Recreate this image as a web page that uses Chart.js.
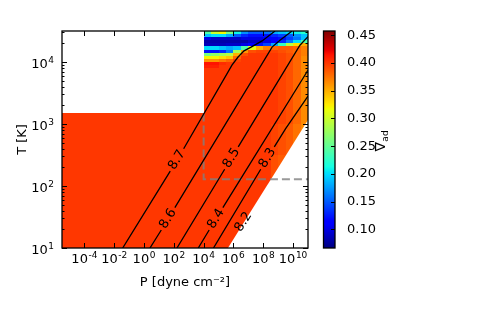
<!DOCTYPE html>
<html>
<head>
<meta charset="utf-8">
<title>nabla_ad map</title>
<script src="https://cdn.jsdelivr.net/npm/chart.js@4.4.1/dist/chart.umd.min.js"></script>
<style>
  html, body { margin: 0; padding: 0; background: #fff; }
</style>
</head>
<body>
<canvas id="eos-chart" width="500" height="310"></canvas>
<script>
// axes are in log10 P [dyne cm^-2] and log10 T [K]
const pTicks = [-4, -2, 0, 2, 4, 6, 8, 10];
const tTicks = [1, 2, 3, 4];
const nablaTicks = [0.10, 0.15, 0.20, 0.25, 0.30, 0.35, 0.40, 0.45];
const nablaRange = [0.066, 0.458];

// low pressure block, uniform value
const lowBlockP = [-5.5, 4.0];
const lowBlockT = [1.0, 3.17];
const lowBlockNabla = 0.40;

// high pressure table: column edges (log P), row edges (log T, top to bottom)
const tablePEdges = [4.0, 4.5, 5.0, 5.5, 6.0, 6.5, 7.0, 7.5, 8.0, 8.5, 9.0, 9.5, 10.0, 10.5, 11.0];
const tableTEdges = [4.5, 4.45, 4.4, 4.35, 4.3, 4.25, 4.2, 4.15, 4.1, 4.05, 4.0, 3.95, 3.9, 3.5, 3.0, 2.5, 2.0, 1.5, 1.0];
const tableNabla = [
  [0.24, 0.30, 0.32, 0.26, 0.21, 0.17, 0.15, 0.15, 0.16, 0.18, 0.19, 0.20, 0.21, 0.22],
  [0.19, 0.20, 0.20, 0.18, 0.15, 0.13, 0.12, 0.12, 0.12, 0.13, 0.14, 0.15, 0.17, 0.19],
  [0.10, 0.09, 0.09, 0.09, 0.09, 0.10, 0.10, 0.10, 0.11, 0.11, 0.12, 0.14, 0.16, 0.19],
  [0.08, 0.08, 0.08, 0.08, 0.08, 0.08, 0.09, 0.09, 0.10, 0.11, 0.13, 0.16, 0.20, 0.24],
  [0.085, 0.085, 0.085, 0.09, 0.09, 0.10, 0.11, 0.12, 0.14, 0.18, 0.23, 0.29, 0.33, 0.35],
  [0.20, 0.20, 0.19, 0.18, 0.19, 0.24, 0.31, 0.35, 0.37, 0.38, 0.385, 0.385, 0.38, 0.37],
  [0.12, 0.12, 0.13, 0.16, 0.28, 0.36, 0.39, 0.395, 0.395, 0.395, 0.39, 0.385, 0.38, 0.37],
  [0.26, 0.27, 0.28, 0.29, 0.35, 0.39, 0.40, 0.40, 0.40, 0.40, 0.395, 0.39, 0.38, 0.37],
  [0.32, 0.32, 0.33, 0.34, 0.38, 0.40, 0.40, 0.40, 0.40, 0.40, 0.395, 0.39, 0.38, 0.365],
  [0.36, 0.36, 0.37, 0.38, 0.395, 0.40, 0.40, 0.40, 0.40, 0.40, 0.395, 0.39, 0.38, 0.365],
  [0.415, 0.415, 0.405, 0.40, 0.40, 0.40, 0.40, 0.40, 0.40, 0.40, 0.395, 0.39, 0.38, 0.365],
  [0.41, 0.41, 0.40, 0.40, 0.40, 0.40, 0.40, 0.40, 0.40, 0.40, 0.395, 0.39, 0.38, 0.365],
  [0.40, 0.40, 0.40, 0.40, 0.40, 0.40, 0.40, 0.40, 0.40, 0.40, 0.395, 0.39, 0.38, 0.365],
  [0.40, 0.40, 0.40, 0.40, 0.40, 0.40, 0.40, 0.40, 0.40, 0.40, 0.395, 0.39, 0.38, 0.365],
  [0.40, 0.40, 0.40, 0.40, 0.40, 0.40, 0.40, 0.40, 0.40, 0.395, 0.39, 0.385, 0.375, 0.365],
  [0.40, 0.40, 0.40, 0.40, 0.40, 0.40, 0.40, 0.40, 0.40, 0.39, 0.385, 0.38, 0.37, 0.36],
  [0.40, 0.40, 0.40, 0.40, 0.40, 0.40, 0.40, 0.40, 0.40, 0.40, 0.40, 0.40, 0.40, 0.40],
  [0.40, 0.40, 0.40, 0.40, 0.40, 0.40, 0.40, 0.40, 0.40, 0.40, 0.40, 0.40, 0.40, 0.40],
];

// lower-right edge of the table (no data beyond)
const edgeP = [5.63, 11.0];
const edgeT = [1.0, 3.065];

// entropy contours, null = gap for the inline label
const c87P = [-1.43, 1.76, null, 2.66, 5.90, 6.31, 6.71, 7.18, 7.92, 8.79];
const c87T = [1.00, 2.24, null, 2.60, 3.95, 4.08, 4.18, 4.24, 4.34, 4.50];
const c86P = [0.40, 1.16, null, 2.07, 8.59, 9.12, 9.93];
const c86T = [1.00, 1.29, null, 1.65, 4.24, 4.35, 4.50];
const c85P = [2.21, 5.41, null, 6.32, 10.46, 11.0];
const c85T = [1.00, 2.27, null, 2.63, 4.27, 4.41];
const c84P = [3.64, 4.37, null, 5.29, 10.80, 11.0];
const c84T = [1.00, 1.29, null, 1.65, 3.79, 3.87];
const c83P = [4.66, 7.83, null, 8.74, 9.49, 11.0];
const c83T = [1.00, 2.27, null, 2.63, 2.92, 3.45];

const labelText = ["8.7", "8.6", "8.5", "8.4", "8.3", "8.2"];
const labelP = [2.21, 1.61, 5.87, 4.83, 8.29, 6.67];
const labelT = [2.42, 1.47, 2.45, 1.47, 2.45, 1.42];

const dashP = [4.0, 4.0, 11.0];
const dashT = [3.17, 2.11, 2.11];

const FONT = "'DejaVu Sans', sans-serif";

// matplotlib "jet"
const JET = {
  r: [[0, 0], [0.35, 0], [0.66, 1], [0.89, 1], [1, 0.5]],
  g: [[0, 0], [0.125, 0], [0.375, 1], [0.64, 1], [0.91, 0], [1, 0]],
  b: [[0, 0.5], [0.11, 1], [0.34, 1], [0.65, 0], [1, 0]],
};
const seg = (pts, f) => {
  for (let i = 1; i < pts.length; i++) {
    if (f <= pts[i][0]) {
      const [x0, y0] = pts[i - 1], [x1, y1] = pts[i];
      return y0 + (y1 - y0) * (f - x0) / (x1 - x0);
    }
  }
  return pts[pts.length - 1][1];
};
const jet = (v) => {
  const f = Math.min(1, Math.max(0, (v - nablaRange[0]) / (nablaRange[1] - nablaRange[0])));
  return `rgb(${Math.round(255 * seg(JET.r, f))},${Math.round(255 * seg(JET.g, f))},${Math.round(255 * seg(JET.b, f))})`;
};

// "10" with a raised exponent, like mathtext
const drawPow = (ctx, v, xPos, yBase, align) => {
  const exp = String(v);
  ctx.font = `13px ${FONT}`;
  const wb = ctx.measureText("10").width;
  ctx.font = `9px ${FONT}`;
  const we = ctx.measureText(exp).width;
  const total = wb + 0.5 + we;
  const x0 = align === "center" ? xPos - total / 2 : xPos - total;
  ctx.textAlign = "left";
  ctx.textBaseline = "alphabetic";
  ctx.font = `13px ${FONT}`;
  ctx.fillText("10", x0, yBase);
  ctx.font = `9px ${FONT}`;
  ctx.fillText(exp, x0 + wb + 0.5, yBase - 5);
};

const toPoints = (P, T) => P.map((p, i) => (p === null ? { x: NaN, y: NaN } : { x: p, y: T[i] }));

const contourLines = [[c87P, c87T], [c86P, c86T], [c85P, c85T], [c84P, c84T], [c83P, c83T], [edgeP, edgeT]];

const contourSet = (P, T) => ({
  data: toPoints(P, T),
  borderColor: "#000",
  borderWidth: 1.3,
  pointRadius: 0,
  tension: 0,
  spanGaps: false,
});

const heatmapPlugin = {
  id: "heatmap",
  beforeDatasetsDraw(chart) {
    const { ctx, chartArea: area, scales: { x, y } } = chart;
    const fillCell = (p0, p1, t0, t1, v) => {
      const x0 = Math.round(x.getPixelForValue(p0)), x1 = Math.round(x.getPixelForValue(p1));
      const y0 = Math.round(y.getPixelForValue(t1)), y1 = Math.round(y.getPixelForValue(t0));
      ctx.fillStyle = jet(v);
      ctx.fillRect(x0, y0, x1 - x0, y1 - y0);
    };
    ctx.save();
    ctx.beginPath();
    ctx.rect(area.left, area.top, area.width, area.height);
    ctx.clip();
    fillCell(lowBlockP[0], lowBlockP[1], lowBlockT[0], lowBlockT[1], lowBlockNabla);

    const pLo = tablePEdges[0], pHi = tablePEdges[tablePEdges.length - 1];
    const tLo = tableTEdges[tableTEdges.length - 1], tHi = tableTEdges[0];
    ctx.beginPath();
    ctx.moveTo(x.getPixelForValue(pLo), y.getPixelForValue(tLo));
    edgeP.forEach((p, i) => ctx.lineTo(x.getPixelForValue(p), y.getPixelForValue(edgeT[i])));
    ctx.lineTo(x.getPixelForValue(pHi), y.getPixelForValue(tHi));
    ctx.lineTo(x.getPixelForValue(pLo), y.getPixelForValue(tHi));
    ctx.closePath();
    ctx.clip();
    tableNabla.forEach((row, r) => row.forEach((v, c) =>
      fillCell(tablePEdges[c], tablePEdges[c + 1], tableTEdges[r + 1], tableTEdges[r], v)));
    ctx.restore();
  },
  afterDatasetsDraw(chart) {
    const { ctx, scales: { x, y } } = chart;
    labelText.forEach((txt, k) => {
      const [P, T] = contourLines[k];
      const pts = P.map((p, i) => (p === null ? null : [p, T[i]])).filter(Boolean);
      let a = pts[0], b = pts[1];
      for (let i = 0; i < pts.length - 1; i++) {
        if (pts[i][0] <= labelP[k] && labelP[k] <= pts[i + 1][0]) { a = pts[i]; b = pts[i + 1]; break; }
      }
      const ang = Math.atan2(y.getPixelForValue(b[1]) - y.getPixelForValue(a[1]),
        x.getPixelForValue(b[0]) - x.getPixelForValue(a[0]));
      ctx.save();
      ctx.translate(x.getPixelForValue(labelP[k]), y.getPixelForValue(labelT[k]));
      ctx.rotate(ang);
      ctx.font = `13px ${FONT}`;
      ctx.fillStyle = "#000";
      ctx.textAlign = "center";
      ctx.textBaseline = "middle";
      ctx.fillText(txt, 0, 0);
      ctx.restore();
    });
  },
  afterDraw(chart) {
    const { ctx, chartArea: area, scales: { x, y, nabla } } = chart;
    ctx.save();
    ctx.strokeStyle = "#000";
    ctx.fillStyle = "#000";

    // tick labels from the scales' own ticks
    x.ticks.forEach((t) => drawPow(ctx, t.value, x.getPixelForValue(t.value), area.bottom + 15, "center"));
    y.ticks.forEach((t) => drawPow(ctx, t.value, area.left - 8, y.getPixelForValue(t.value) + 5.5, "right"));

    // inward ticks on all four sides
    ctx.lineWidth = 1;
    ctx.beginPath();
    pTicks.forEach((v) => {
      const px = Math.round(x.getPixelForValue(v)) + 0.5;
      ctx.moveTo(px, area.bottom); ctx.lineTo(px, area.bottom - 5);
      ctx.moveTo(px, area.top); ctx.lineTo(px, area.top + 5);
    });
    for (let d = 1; d <= 4; d++) {
      for (let k = 1; k <= 9; k++) {
        const v = d + Math.log10(k);
        if (v > 4.5) continue;
        const len = k === 1 ? 5 : 2.5;
        const py = Math.round(y.getPixelForValue(v)) + 0.5;
        ctx.moveTo(area.left, py); ctx.lineTo(area.left + len, py);
        ctx.moveTo(area.right, py); ctx.lineTo(area.right - len, py);
      }
    }
    ctx.stroke();

    ctx.lineWidth = 1.3;
    ctx.strokeRect(area.left, area.top, area.width, area.height);

    // colour bar, drawn along the nabla axis
    const cbLeft = area.right + 15.5, cbWidth = 11.5;
    const cbTop = nabla.getPixelForValue(nablaRange[1]);
    const cbBottom = nabla.getPixelForValue(nablaRange[0]);
    for (let py = Math.floor(cbTop); py < cbBottom; py++) {
      ctx.fillStyle = jet(nabla.getValueForPixel(py + 0.5));
      ctx.fillRect(cbLeft, py, cbWidth, 1);
    }
    ctx.lineWidth = 1;
    ctx.beginPath();
    nablaTicks.forEach((v) => {
      const py = Math.round(nabla.getPixelForValue(v)) + 0.5;
      ctx.moveTo(cbLeft + cbWidth - 4, py); ctx.lineTo(cbLeft + cbWidth, py);
    });
    ctx.stroke();
    ctx.lineWidth = 1.3;
    ctx.strokeRect(cbLeft, cbTop, cbWidth, cbBottom - cbTop);

    // colour bar label: nabla_ad, reading upwards
    ctx.translate(area.right + 77, (cbTop + cbBottom) / 2 + 12);
    ctx.rotate(-Math.PI / 2);
    ctx.fillStyle = "#000";
    ctx.textBaseline = "alphabetic";
    ctx.textAlign = "left";
    ctx.font = `14px ${FONT}`;
    ctx.fillText("\u2207", 0, 0);
    const w = ctx.measureText("\u2207").width;
    ctx.font = `9px ${FONT}`;
    ctx.fillText("ad", w + 0.5, 2.5);
    ctx.restore();
  },
};

Chart.defaults.font.family = FONT;
Chart.defaults.font.size = 13;
Chart.defaults.color = "#000";

new Chart(document.getElementById("eos-chart"), {
  type: "line",
  data: {
    datasets: [
      contourSet(c87P, c87T),
      contourSet(c86P, c86T),
      contourSet(c85P, c85T),
      contourSet(c84P, c84T),
      contourSet(c83P, c83T),
      {
        data: toPoints(dashP, dashT),
        borderColor: "rgba(128,128,128,0.8)",
        borderWidth: 2,
        borderDash: [8, 4],
        pointRadius: 0,
        tension: 0,
      },
    ],
  },
  options: {
    responsive: false,
    devicePixelRatio: 1,
    animation: false,
    layout: { padding: { top: 31, right: 0, bottom: 0, left: 0 } },
    plugins: { legend: { display: false }, tooltip: { enabled: false } },
    scales: {
      x: {
        type: "linear",
        min: -5.5,
        max: 11,
        grid: { display: false },
        border: { display: false },
        afterBuildTicks: (s) => { s.ticks = pTicks.map((v) => ({ value: v })); },
        afterFit: (s) => { s.height = 62; s.paddingLeft = 0; s.paddingRight = 0; },
        ticks: { display: false },
        title: { display: true, text: "P [dyne cm\u207b\u00b2]", padding: { top: 0, bottom: 20 } },
      },
      y: {
        type: "linear",
        min: 1,
        max: 4.5,
        grid: { display: false },
        border: { display: false },
        afterBuildTicks: (s) => { s.ticks = tTicks.map((v) => ({ value: v })); },
        afterFit: (s) => { s.width = 62; s.paddingTop = 0; s.paddingBottom = 0; },
        ticks: { display: false },
        title: { display: true, text: "T [K]", padding: { top: 15, bottom: 0 } },
      },
      nabla: {
        type: "linear",
        position: "right",
        min: nablaRange[0],
        max: nablaRange[1],
        grid: { display: false },
        border: { display: false },
        afterBuildTicks: (s) => { s.ticks = nablaTicks.map((v) => ({ value: v })); },
        afterFit: (s) => { s.width = 192; s.paddingTop = 0; s.paddingBottom = 0; },
        ticks: { callback: (v) => v.toFixed(2), padding: 31 },
      },
    },
  },
  plugins: [heatmapPlugin],
});
</script>
</body>
</html>
